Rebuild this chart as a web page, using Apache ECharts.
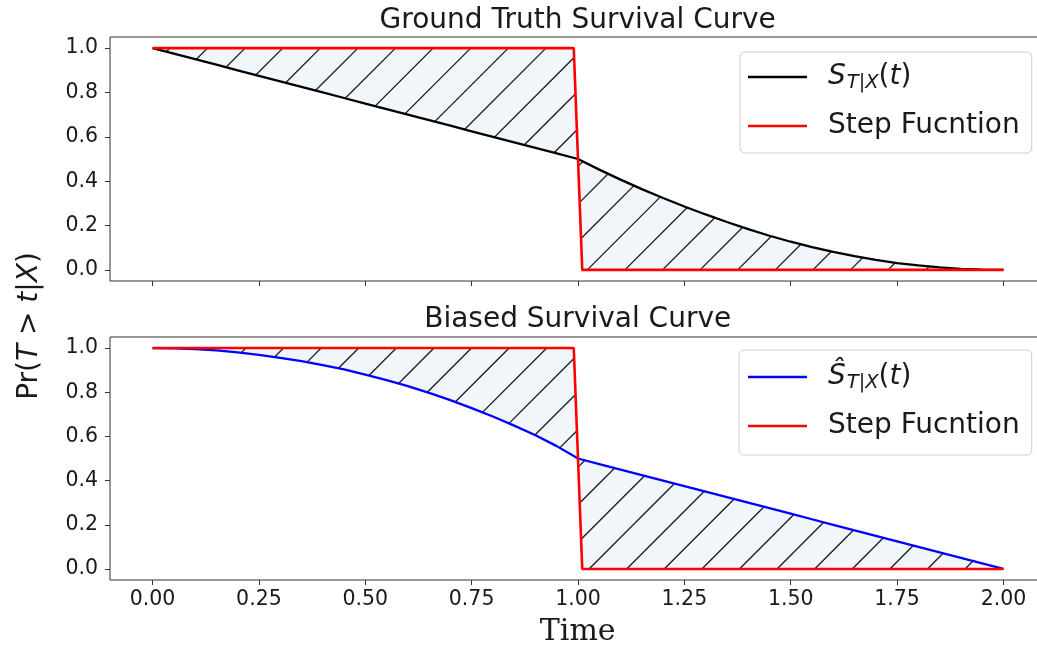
<!DOCTYPE html>
<html>
<head>
<meta charset="utf-8">
<script src="https://cdn.jsdelivr.net/npm/echarts@6/dist/echarts.min.js"></script>
<style>
  html, body { margin: 0; padding: 0; background: #ffffff; }
  #chart { width: 1037px; height: 649px; }
</style>
</head>
<body>
<div id="chart"></div>
<script>
// Time grid shared by both survival curves
const timeGrid = [
  0.00, 0.05, 0.10, 0.15, 0.20, 0.25, 0.30, 0.35, 0.40, 0.45,
  0.50, 0.55, 0.60, 0.65, 0.70, 0.75, 0.80, 0.85, 0.90, 0.95,
  1.00, 1.05, 1.10, 1.15, 1.20, 1.25, 1.30, 1.35, 1.40, 1.45,
  1.50, 1.55, 1.60, 1.65, 1.70, 1.75, 1.80, 1.85, 1.90, 1.95, 2.00
];
// Ground-truth survival S_{T|X}(t)
const trueSurvival = [
  1.000, 0.975, 0.950, 0.925, 0.900, 0.875, 0.850, 0.825, 0.800, 0.775,
  0.750, 0.725, 0.700, 0.675, 0.650, 0.625, 0.600, 0.575, 0.550, 0.525,
  0.500, 0.452, 0.407, 0.364, 0.324, 0.286, 0.250, 0.216, 0.184, 0.154,
  0.127, 0.103, 0.081, 0.062, 0.045, 0.031, 0.020, 0.011, 0.005, 0.001, 0.000
];
// Biased survival estimate
const biasedSurvival = [
  1.000, 0.999, 0.995, 0.989, 0.980, 0.969, 0.956, 0.941, 0.923, 0.903,
  0.880, 0.855, 0.828, 0.797, 0.764, 0.728, 0.690, 0.649, 0.605, 0.556,
  0.500, 0.475, 0.450, 0.425, 0.400, 0.375, 0.350, 0.325, 0.300, 0.275,
  0.250, 0.225, 0.200, 0.175, 0.150, 0.125, 0.100, 0.075, 0.050, 0.025, 0.000
];
// Step function (event at t = 1)
const stepTime  = [0.00, 0.99, 1.01, 2.00];
const stepValue = [1, 1, 0, 0];

const xTicks = [0, 0.25, 0.5, 0.75, 1.0, 1.25, 1.5, 1.75, 2.0];
const yTicks = [0, 0.2, 0.4, 0.6, 0.8, 1.0];

const titles = ['Ground Truth Survival Curve', 'Biased Survival Curve'];
const stepLabel = 'Step Fucntion';

const FONT = 'DejaVu Sans';
const TEXT = '#1a1a1a';
const SPINE = '#333333';
const FACE = '#f1f6fa';
const HATCH_GAP = 37.6;   // horizontal spacing of '/' hatch lines, px
const HATCH_PHASE = 30;   // lines satisfy x + y = phase + k * gap

const pairs = (xs, ys) => xs.map((x, i) => [x, ys[i]]);

// Clip each diagonal line x + y = s against the polygon and return the inside segments
function hatchSegments(pts) {
  let lo = Infinity, hi = -Infinity;
  pts.forEach(p => { lo = Math.min(lo, p[0] + p[1]); hi = Math.max(hi, p[0] + p[1]); });
  const segs = [];
  const k0 = Math.ceil((lo - HATCH_PHASE) / HATCH_GAP);
  const k1 = Math.floor((hi - HATCH_PHASE) / HATCH_GAP);
  for (let k = k0; k <= k1; k++) {
    const s = HATCH_PHASE + k * HATCH_GAP;
    const xs = [];
    for (let i = 0; i < pts.length; i++) {
      const a = pts[i], b = pts[(i + 1) % pts.length];
      const fa = a[0] + a[1] - s, fb = b[0] + b[1] - s;
      if ((fa <= 0 && fb > 0) || (fb <= 0 && fa > 0)) {
        const t = fa / (fa - fb);
        xs.push(a[0] + t * (b[0] - a[0]));
      }
    }
    xs.sort((p, q) => p - q);
    for (let j = 0; j + 1 < xs.length; j += 2) {
      segs.push([xs[j], s - xs[j], xs[j + 1], s - xs[j + 1]]);
    }
  }
  return segs;
}

function fillBetween(curve, idx) {
  return {
    type: 'custom',
    xAxisIndex: idx, yAxisIndex: idx,
    silent: true, z: 1,
    data: [[0, 0]],
    renderItem: function (params, api) {
      const pts = [];
      for (let i = 0; i < stepTime.length; i++) pts.push(api.coord([stepTime[i], stepValue[i]]));
      for (let i = timeGrid.length - 1; i >= 0; i--) pts.push(api.coord([timeGrid[i], curve[i]]));
      const children = [{
        type: 'polygon',
        shape: { points: pts },
        style: { fill: FACE, stroke: null }
      }];
      hatchSegments(pts).forEach(sg => children.push({
        type: 'line',
        shape: { x1: sg[0], y1: sg[1], x2: sg[2], y2: sg[3] },
        style: { stroke: '#1a1a1a', lineWidth: 1.3 }
      }));
      return { type: 'group', children: children };
    }
  };
}

function lineSeries(name, xs, ys, color, width, idx, z) {
  return {
    name: name, type: 'line',
    xAxisIndex: idx, yAxisIndex: idx,
    data: pairs(xs, ys),
    showSymbol: false, symbol: 'none',
    color: color,
    itemStyle: { color: color },
    lineStyle: { color: color, width: width },
    z: z, silent: true
  };
}

const mathRich = {
  it:  { fontStyle: 'italic', fontSize: 28, fontFamily: FONT, color: TEXT },
  n:   { fontSize: 28, fontFamily: FONT, color: TEXT },
  sub: { fontStyle: 'italic', fontSize: 19.5, fontFamily: FONT, color: TEXT, lineHeight: 20, padding: [12, 0, 0, 1] }
};

const legendText = {
  'S_{T|X}(t)': '{it|S}{sub|T|X}{n|(}{it|t}{n|)}',
  'Ŝ_{T|X}(t)': '{it|Ŝ}{sub|T|X}{n|(}{it|t}{n|)}',
  'Step Fucntion': '{n|' + stepLabel + '}',
  'Step Fucntion ': '{n|' + stepLabel + '}'
};

function legendBox(names, left, top, pad) {
  return {
    data: names,
    orient: 'vertical',
    left: left, top: top,
    icon: 'rect', itemWidth: 59, itemHeight: 2.6,
    itemGap: 15,
    padding: pad,
    backgroundColor: 'rgba(255,255,255,0.8)',
    borderColor: '#cccccc', borderWidth: 1, borderRadius: 5,
    selectedMode: false,
    formatter: name => legendText[name],
    textStyle: {
      fontSize: 28, fontFamily: FONT, color: TEXT, lineHeight: 34,
      padding: [0, 0, 0, 16], rich: mathRich
    }
  };
}

function xAxis(idx, labels) {
  return {
    type: 'value', gridIndex: idx, min: -0.1, max: 2.1,
    position: 'bottom',
    axisLine: { show: false, onZero: false },
    splitLine: { show: false },
    axisTick: { show: true, inside: false, length: 5, customValues: xTicks, lineStyle: { color: SPINE, width: 1 } },
    axisLabel: {
      show: labels, customValues: xTicks, margin: 9,
      formatter: v => v.toFixed(2),
      fontSize: 20.5, fontFamily: FONT, color: TEXT
    }
  };
}

function yAxis(idx) {
  return {
    type: 'value', gridIndex: idx, min: -0.05, max: 1.05,
    position: 'left',
    axisLine: { show: false, onZero: false },
    splitLine: { show: false },
    axisTick: { show: true, inside: false, length: 5, customValues: yTicks, lineStyle: { color: SPINE, width: 1 } },
    axisLabel: {
      show: true, customValues: yTicks, margin: 12,
      formatter: v => v.toFixed(1),
      fontSize: 20.5, fontFamily: FONT, color: TEXT
    }
  };
}

const gridBase = { left: 110, right: -9, show: true, borderColor: SPINE, borderWidth: 1, backgroundColor: 'transparent', containLabel: false, outerBoundsMode: 'none' };

const chart = echarts.init(document.getElementById('chart'), null, { renderer: 'canvas' });
chart.setOption({
  animation: false,
  backgroundColor: '#ffffff',
  grid: [
    Object.assign({ top: 37, height: 244 }, gridBase),
    Object.assign({ top: 337, height: 243 }, gridBase)
  ],
  xAxis: [xAxis(0, false), xAxis(1, true)],
  yAxis: [yAxis(0), yAxis(1)],
  legend: [
    legendBox(['S_{T|X}(t)', 'Step Fucntion'], 740, 52, [8, 12, 10, 8]),
    legendBox(['Ŝ_{T|X}(t)', 'Step Fucntion '], 739, 350, [10, 12, 12, 9])
  ],
  graphic: [
    { type: 'text', x: 577.7, y: 21, silent: true,
      style: { text: titles[0], fontSize: 28, fontFamily: FONT, fill: TEXT, align: 'center', verticalAlign: 'middle' } },
    { type: 'text', x: 577.7, y: 320, silent: true,
      style: { text: titles[1], fontSize: 28, fontFamily: FONT, fill: TEXT, align: 'center', verticalAlign: 'middle' } },
    { type: 'text', x: 577.7, y: 632, silent: true,
      style: { text: 'Time', fontSize: 30, fontFamily: 'DejaVu Serif', fill: TEXT, align: 'center', verticalAlign: 'middle' } },
    { type: 'text', x: 30, y: 326, rotation: Math.PI / 2, silent: true,
      style: {
        text: '{n|Pr(}{it|T}{n| > }{it|t}{n||}{it|X}{n|)}',
        rich: mathRich, fontSize: 28, fontFamily: FONT, fill: TEXT,
        align: 'center', verticalAlign: 'middle'
      } }
  ],
  series: [
    fillBetween(trueSurvival, 0),
    lineSeries('S_{T|X}(t)', timeGrid, trueSurvival, '#000000', 2.3, 0, 3),
    lineSeries('Step Fucntion', stepTime, stepValue, '#ff0000', 2.6, 0, 4),
    fillBetween(biasedSurvival, 1),
    lineSeries('Ŝ_{T|X}(t)', timeGrid, biasedSurvival, '#0000ff', 2.3, 1, 3),
    lineSeries('Step Fucntion ', stepTime, stepValue, '#ff0000', 2.6, 1, 4)
  ]
});
</script>
</body>
</html>
